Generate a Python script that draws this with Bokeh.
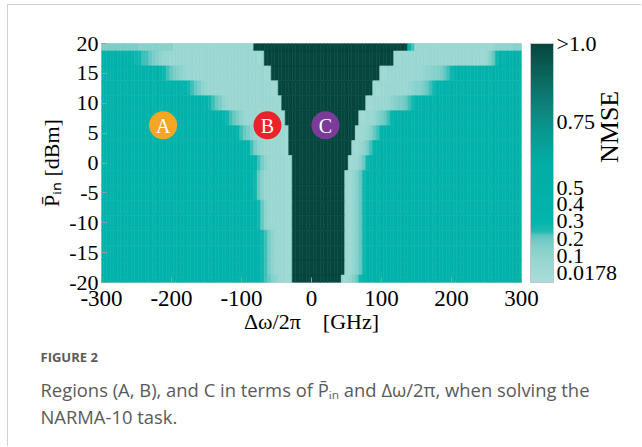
import re
import numpy as np
from bokeh.plotting import figure
from bokeh.models import (ColumnDataSource, LinearColorMapper, ColorBar, FixedTicker,
                          Range1d, AllLabels, LinearAxis, Title)
from bokeh.embed import file_html
from bokeh.resources import INLINE
from bokeh.core.properties import value

# ---------------------------------------------------------------- data
# Detuning columns (GHz): one column every 5 GHz from -300 to 300
detuning_first, detuning_step, detuning_count = -300.0, 5.0, 121
# Mean input power rows (dBm), listed from top to bottom
p_in_dbm = [20, 17.5, 15, 12.5, 10, 7.5, 5, 2.5, 0, -2.5, -5, -7.5, -10, -12.5, -15, -17.5, -20]
row_step = 2.5

# NMSE level codes used in the run-length rows below ("K" = NMSE above 1)
nmse_levels = {"K": 1.2, "n": 0.36, "m": 0.31, "l": 0.27, "k": 0.23, "j": 0.20,
               "i": 0.17, "h": 0.14, "g": 0.11, "f": 0.08, "e": 0.06, "d": 0.04}

# NMSE per row, run-length coded from -300 GHz to +300 GHz
nmse_rows = [
    "11i 10h 23e 44K n k 23e 5g 3h",                                   # 20
    "9n m l l k k j i h g f f 25e 2d 37K 2d 25e h j l 7n",             # 17.5
    "17n m l k j i h g f 22e 2d 31K 2d 10e f g g h h i j k l m 19n",   # 15
    "24n m l k j i g f 18e 2d 27K 2d 8e f g h h i j k l m 24n",        # 12.5
    "30n m l k j i g f 13e 2d 24K 2d 4e f g h i i j k l m 30n",        # 10
    "35n m l k j i g f 9e 2d 21K 2d 2e f h i j k m 37n",               # 7.5
    "39n m k j i g f 7e 2d 19K 2d e f h j k m 40n",                    # 5
    "42n m k i g f 5e 2d 18K 2d e g i k m 42n",                        # 2.5
    "44n m k i g 5e 2d 16K 2d e g j l 44n",                            # 0
    "44n l j g 6e 2d 15K 2d f h j l 45n",                              # -2.5
    "44n l j g 6e 2d 15K 2d f h j l 45n",                              # -5
    "45n l j g 5e 2d 15K 2d f h j l 45n",                              # -7.5
    "45n l j g 5e 2d 15K 2d f h j l 45n",                              # -10
    "46n l k i g 3e 2d 15K 2d f h j l 45n",                            # -12.5
    "46n l k i g 3e 2d 15K 2d f h j l 45n",                            # -15
    "46n l k i g 3e 2d 15K 2d f h j l 45n",                            # -17.5
    "46n l k j h g 2e 2d 14K 2d f h j l 46n",                          # -20
]

# Operating regions marked on the map
region_names = ["A", "B", "C"]
region_detuning = [-212, -63, 20]
region_p_in = [6.3, 6.3, 6.3]
region_colors = ["#f5a623", "#ec2228", "#7b3c99"]

# Colour bar: NMSE tick values, their labels and their place along the bar (0..1)
cbar_values = [0.0178, 0.1, 0.2, 0.3, 0.4, 0.5, 0.75, 1.0]
cbar_labels = ["0.0178", "0.1", "0.2", "0.3", "0.4", "0.5", "0.75", ">1.0"]
cbar_pos = [0.04, 0.113, 0.184, 0.259, 0.331, 0.399, 0.675, 1.0]

x_ticks = [-300, -200, -100, 0, 100, 200, 300]
y_ticks = [-20, -15, -10, -5, 0, 5, 10, 15, 20]

x_title = "Δω/2π\u2003[GHz]"
y_title = "P\u0304\u1d62\u2099 [dBm]"
cbar_title = "NMSE"
caption_head = "FIGURE 2"
caption_lines = ["Regions (A, B), and C in terms of P\u0304\u1d62\u2099 and Δω/2π, when solving the",
                 "NARMA-10 task."]

# ---------------------------------------------------------------- colours
cmap_stops = [(0.00, "#a9ddd9"), (0.08, "#9ad7d2"), (0.15, "#83d0ca"), (0.19, "#64c8c1"),
              (0.215, "#22b9b1"), (0.25, "#03b5ad"), (0.50, "#02ada5"), (0.60, "#079d95"),
              (0.70, "#0d8b83"), (0.85, "#0b6a62"), (1.00, "#05463e")]


def _rgb(h):
    return [int(h[i:i + 2], 16) for i in (1, 3, 5)]


stop_t = [s[0] for s in cmap_stops]
stop_rgb = np.array([_rgb(s[1]) for s in cmap_stops], dtype=float)
grid = np.linspace(0, 1, 256)
palette = ["#%02x%02x%02x" % tuple(int(round(np.interp(g, stop_t, stop_rgb[:, c]))) for c in range(3))
           for g in grid]
mapper = LinearColorMapper(palette=palette, low=0.0, high=1.0)


def decode(row):
    out = []
    for count, code in re.findall(r"(\d*)([A-Za-z])", row):
        out += [nmse_levels[code]] * (int(count) if count else 1)
    return out


def bar_position(v):
    # place an NMSE value on the colour-bar scale
    v = min(v, cbar_values[-1])
    if v < cbar_values[0]:
        return cbar_pos[0] * v / cbar_values[0]
    return float(np.interp(v, cbar_values, cbar_pos))


xs, ys, ts = [], [], []
for p_in, row in zip(p_in_dbm, nmse_rows):
    vals = decode(row)
    assert len(vals) == detuning_count, (p_in, len(vals))
    for i, v in enumerate(vals):
        xs.append(detuning_first + i * detuning_step)
        ys.append(p_in)
        ts.append(bar_position(v))
cells = ColumnDataSource(dict(x=xs, y=ys, t=ts))

# ---------------------------------------------------------------- figure
# the canvas sits inside a card whose top/left border is a thin grey line
W, H = 634, 442
FRAME_LEFT_IN_CANVAS = 93
p = figure(width=W, height=H, x_range=Range1d(-300, 300), y_range=Range1d(-20, 20),
           output_backend="svg", toolbar_location=None,
           min_border_left=FRAME_LEFT_IN_CANVAS, min_border_right=121,
           min_border_top=38, min_border_bottom=165)
p.margin = (4, 0, 0, 7)
p.styles = {"border-top": "1px solid #d0d0d0", "border-left": "1px solid #d0d0d0"}
p.grid.visible = False
p.outline_line_color = "#d2d2d2"
p.background_fill_color = "white"

p.rect("x", "y", width=detuning_step, height=row_step, source=cells,
       fill_color={"field": "t", "transform": mapper},
       line_color={"field": "t", "transform": mapper}, line_width=0.6)

serif = "Liberation Serif"
p.xaxis.ticker = FixedTicker(ticks=x_ticks)
p.yaxis.ticker = FixedTicker(ticks=y_ticks)
p.xaxis.major_label_overrides = {t: str(t) for t in x_ticks}
p.yaxis.major_label_overrides = {t: str(t) for t in y_ticks}
p.xaxis.major_label_policy = AllLabels()
p.yaxis.major_label_policy = AllLabels()
for axes in (p.xaxis, p.yaxis):
    axes.axis_line_color = None
    axes.major_tick_in = 5
    axes.major_tick_out = 0
    axes.major_tick_line_color = "#9a9a9a"
    axes.minor_tick_line_color = None
    axes.major_label_text_font = serif
    axes.major_label_text_color = "black"
    axes.axis_label_text_font = serif
    axes.axis_label_text_font_style = "normal"
    axes.axis_label_text_color = "black"
p.xaxis.major_label_text_font_size = "23px"
p.yaxis.major_label_text_font_size = "22px"
p.xaxis.major_label_standoff = 8
p.yaxis.major_label_standoff = 3
p.xaxis.axis_label = x_title
p.xaxis.axis_label_text_font_size = "22px"
p.xaxis.axis_label_standoff = 0
p.yaxis.axis_label = y_title
p.yaxis.axis_label_text_font_size = "22px"
p.yaxis.axis_label_standoff = 2

# Region markers
regions = ColumnDataSource(dict(x=region_detuning, y=region_p_in, name=region_names, color=region_colors))
p.scatter("x", "y", size=28, fill_color="color", line_color=None, source=regions)
p.text("x", "y", text="name", source=regions, text_align="center", text_baseline="middle",
       text_color="white", text_font=value(serif), text_font_size="20px", y_offset=1)

# Colour bar
cbar = ColorBar(color_mapper=mapper, ticker=FixedTicker(ticks=cbar_pos),
                major_label_overrides={pos: lab for pos, lab in zip(cbar_pos, cbar_labels)},
                major_label_policy=AllLabels(),
                width=23, height=239, padding=0, margin=0, location=(9, 0),
                bar_line_color="#c4c4c4", major_tick_line_color=None, minor_tick_line_color=None,
                label_standoff=3, major_label_text_font=serif,
                major_label_text_font_size="22px", major_label_text_color="black",
                background_fill_color=None)
p.add_layout(cbar, "right")

# colour-bar title, carried by a bare axis outside the bar and reading upwards
nmse_axis = LinearAxis(ticker=FixedTicker(ticks=[]), axis_label=cbar_title,
                       axis_line_color=None, major_tick_line_color=None, minor_tick_line_color=None,
                       major_label_text_font_size="0px", axis_label_standoff=-11,
                       axis_label_orientation=np.pi / 2, axis_label_text_font=serif,
                       axis_label_text_font_size="26px", axis_label_text_font_style="normal",
                       axis_label_text_color="black")
p.add_layout(nmse_axis, "right")

# caption under the chart
grey = "#5a5a5a"
caption_x = 40 - 8                          # page x of the caption minus the canvas offset
for text, size, style, standoff, line_height in [(caption_head, 13, "bold", 18, 1.0),
                                                 (caption_lines[0], 18.4, "normal", 0, 0.85),
                                                 (caption_lines[1], 18.4, "normal", 0, 0.85)]:
    p.add_layout(Title(text=text, align="left", offset=caption_x - FRAME_LEFT_IN_CANVAS,
                       standoff=standoff, text_font="Open Sans", text_font_size=f"{size}px",
                       text_font_style=style, text_color=grey, text_line_height=line_height),
                 "below")

open("out.html", "w").write(file_html(p, INLINE))
